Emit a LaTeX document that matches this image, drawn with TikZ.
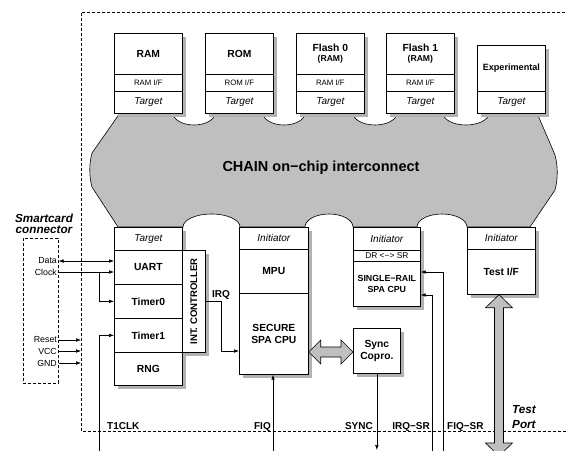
\documentclass[tikz,border=0pt]{standalone}
\usepackage{fontspec}
\setmainfont{Liberation Sans}
\setsansfont{Liberation Sans}
\usetikzlibrary{arrows.meta,calc}
\definecolor{cloudc}{gray}{0.75}
\definecolor{shadc}{gray}{0.70}
\newcommand\myfb{\fontsize{10.3}{12}\selectfont\bfseries}
\newcommand\myfbs{\fontsize{8.8}{10.5}\selectfont\bfseries}
\newcommand\myfbx{\fontsize{8.6}{9.5}\selectfont\bfseries}
\newcommand\myfs{\fontsize{7.8}{9}\selectfont}
\newcommand\myfi{\fontsize{10}{11}\selectfont\itshape}
\newcommand\myfsig{\fontsize{10}{11}\selectfont\bfseries}
\newcommand\myfpin{\fontsize{8.8}{10}\selectfont}
\newcommand\myfbig{\fontsize{11.7}{12}\selectfont\bfseries\itshape}
\newcommand\cell[7]{%
  \pgfmathsetmacro\cw{#4-#2}\pgfmathsetmacro\ch{#5-#3}%
  \node[cellst,font=#6,minimum width=\cw pt,minimum height=\ch pt,anchor=north west] (#1) at (#2,#3) {#7};}
\newcommand\mkshadow[4]{\fill[shadc] (#1+4,#2+4) rectangle (#3+4,#4+4);}
\begin{document}
\begin{tikzpicture}[x=1pt,y=-1pt,
  cellst/.style={draw,fill=white,inner sep=0pt,line width=0.7pt,align=center},
  arr/.style={-{Latex[length=5pt,width=3.6pt]},line width=0.55pt},
  arrb/.style={{Latex[length=5pt,width=3.6pt]}-{Latex[length=5pt,width=3.6pt]},line width=0.55pt},
  fat/.style={fill=cloudc,draw=black,line width=0.6pt,line join=miter},
  dashbox/.style={dash pattern=on 3pt off 2pt,line width=0.55pt},
  pin/.style={font=\myfpin,inner sep=1.5pt},
  sig/.style={font=\myfsig,inner sep=0pt}]
\clip (0,0) rectangle (567,450);
% outer dashed border
\coordinate (bdr) at (81,12);
\draw[dashbox] (600,12) -- (bdr) -- (81,431) -- (600,431);
% cloud
\draw[fill=cloudc,line width=0.6pt] (120,113)
 -- (173,113) .. controls (173,119.6) and (182.4,125) .. (194,125) .. controls (205.6,125) and (215,119.6) .. (215,113)
 -- (263,113) .. controls (263,119.6) and (272.4,125) .. (284,125) .. controls (295.6,125) and (305,119.6) .. (305,113)
 -- (353,113) .. controls (353,119.6) and (362.9,125) .. (375,125) .. controls (387.1,125) and (397,119.6) .. (397,113)
 -- (443,113) .. controls (443,119.6) and (453.3,125) .. (466,125) .. controls (478.7,125) and (489,119.6) .. (489,113)
 -- (537,113) -- (555,155) .. controls (558,166) and (558,179) .. (555,190) -- (530,227)
 -- (467,227) .. controls (467,219.8) and (455.8,214) .. (442,214) .. controls (428.2,214) and (417,219.8) .. (417,227)
 -- (353,227) .. controls (353,219.8) and (342.2,214) .. (329,214) .. controls (315.8,214) and (305,219.8) .. (305,227)
 -- (240,227) .. controls (240,219.8) and (227.2,214) .. (211.5,214) .. controls (195.8,214) and (183,219.8) .. (183,227)
 -- (118,227) -- (92,187) .. controls (89,176) and (89,164) .. (92,153) -- cycle;
\node[font=\fontsize{14.5}{16}\selectfont\bfseries] (chain) at (321,168) {CHAIN on−chip interconnect};
% top boxes
\mkshadow{114}{33}{182}{113}
\cell{ram}{114}{33}{182}{74}{\myfb}{RAM}
\cell{ramif}{114}{74}{182}{91}{\myfs}{RAM I/F}
\cell{ramt}{114}{91}{182}{113}{\myfi}{Target}
\mkshadow{205}{33}{273}{113}
\cell{rom}{205}{33}{273}{74}{\myfb}{ROM}
\cell{romif}{205}{74}{273}{91}{\myfs}{ROM I/F}
\cell{romt}{205}{91}{273}{113}{\myfi}{Target}
\mkshadow{296}{33}{364}{113}
\cell{fl0}{296}{33}{364}{74}{\myfb}{Flash 0\\[-1.5pt]{\myfbx (RAM)}}
\cell{fl0if}{296}{74}{364}{91}{\myfs}{RAM I/F}
\cell{fl0t}{296}{91}{364}{113}{\myfi}{Target}
\mkshadow{386}{33}{454}{113}
\cell{fl1}{386}{33}{454}{74}{\myfb}{Flash 1\\[-1.5pt]{\myfbx (RAM)}}
\cell{fl1if}{386}{74}{454}{91}{\myfs}{RAM I/F}
\cell{fl1t}{386}{91}{454}{113}{\myfi}{Target}
\mkshadow{477}{45}{545}{113}
\cell{exp}{477}{45}{545}{91}{\fontsize{9.1}{10}\selectfont\bfseries}{Experimental}
\cell{expt}{477}{91}{545}{113}{\myfi}{Target}
% bottom left block
\mkshadow{114}{227}{182}{385}
\cell{lt}{114}{227}{182}{250}{\myfi}{Target}
\cell{uart}{114}{250}{182}{284}{\myfb}{UART}
\cell{timer0}{114}{284}{182}{318}{\myfb}{Timer0}
\cell{timer1}{114}{318}{182}{352}{\myfb}{Timer1}
\cell{rng}{114}{352}{182}{385}{\myfb}{RNG}
\mkshadow{182}{250}{205}{352}
\cell{intc}{182}{250}{205}{352}{\myfb}{}
\node[rotate=90,font=\fontsize{9.6}{11}\selectfont\bfseries,inner sep=0pt] (intcl) at (intc.center) {INT. CONTROLLER};
% secure CPU
\mkshadow{239}{227}{308}{374}
\cell{sinit}{239}{227}{308}{249}{\myfi}{Initiator}
\cell{mpu}{239}{249}{308}{293}{\myfb}{MPU}
\cell{secure}{239}{293}{308}{374}{\myfb}{SECURE\\SPA CPU}
% single rail
\mkshadow{353}{227}{420}{306}
\cell{srinit}{353}{227}{420}{250}{\myfi}{Initiator}
\cell{drsr}{353}{250}{420}{261}{\fontsize{8.4}{9}\selectfont}{DR <−> SR}
\cell{srcpu}{353}{261}{420}{306}{\myfbs}{SINGLE−RAIL\\SPA CPU}
% test
\mkshadow{467}{227}{535}{294}
\cell{tinit}{467}{227}{535}{249}{\myfi}{Initiator}
\cell{testif}{467}{249}{535}{294}{\myfb}{Test I/F}
% sync copro
\mkshadow{353}{328}{400}{373}
\cell{sync}{353}{328}{400}{373}{\myfb}{Sync\\Copro.}
% smartcard connector
\node[font=\myfbig,inner sep=0pt,anchor=base] (sc1) at (44,222) {Smartcard};
\node[font=\myfbig,inner sep=0pt,anchor=base] (sc2) at (44,233) {connector};
\node[draw,dashbox,inner sep=0pt,minimum width=35pt,minimum height=145pt,anchor=north west] (scbox) at (23,238) {};
\node[pin,anchor=east] (data) at (scbox.east |- 0,261) {Data};
\node[pin,anchor=east] (clock) at (scbox.east |- 0,272) {Clock};
\node[pin,anchor=east] (reset) at (scbox.east |- 0,340) {Reset};
\node[pin,anchor=east] (vcc) at (scbox.east |- 0,351) {VCC};
\node[pin,anchor=east] (gnd) at (scbox.east |- 0,363) {GND};
% connectors on the left
\draw[arrb] (data.east) -- (data.east -| uart.west);
\draw[arr] (clock.east) -- (clock.east -| uart.west);
\coordinate (cbr) at (99,272);
\draw[arr] (cbr) |- (timer0.west);
\coordinate (t1src) at (99,452);
\draw[arr] (t1src) |- (timer1.west);
\draw[arr] (reset.east) -- (reset.east -| bdr);
\draw[arr] (vcc.east) -- (vcc.east -| bdr);
\draw[arr] (gnd.east) -- (gnd.east -| bdr);
% IRQ
\coordinate (irqin) at (239,351);
\draw[arr] (intc.east) -- ++(16,0) |- (irqin);
\node[sig,anchor=base west] (irql) at (212,297) {IRQ};
% FIQ, SYNC, IRQ-SR, FIQ-SR
\coordinate (fiqsrc) at (273,452);
\draw[arr] (fiqsrc) -- (fiqsrc |- secure.south);
\coordinate (syncend) at (sync.south |- 0,450);
\draw[arr] (sync.south) -- (syncend);
\coordinate (irqsrsrc) at (432,452);
\draw[arr] (irqsrsrc) |- (srcpu.east |- 0,295);
\coordinate (fiqsrsrc) at (443,452);
\draw[arr] (fiqsrsrc) |- (srcpu.east |- 0,272);
% bottom labels
\node[sig,anchor=base west] (t1clk) at (107,429) {T1CLK};
\node[sig,anchor=base east] (fiql) at (271,429) {FIQ};
\node[sig,anchor=base east] (syncl) at (373,429) {SYNC};
\node[sig,anchor=base east] (irqsrl) at (430,429) {IRQ−SR};
\node[sig,anchor=base west] (fiqsrl) at (447,429) {FIQ−SR};
\node[font=\myfbig,inner sep=0pt,anchor=base west] (tp1) at (512,413) {Test};
\node[font=\myfbig,inner sep=0pt,anchor=base west] (tp2) at (512,428) {Port};
% fat arrow secure <-> sync
\coordinate (fa1) at (secure.east |- 0,352);
\coordinate (fa2) at (sync.west |- 0,352);
\draw[fat] (fa1) -- ++(12,-12) -- ++(0,7) -- ($(fa2)+(-12,-5)$) -- ++(0,-7) -- (fa2)
  -- ++(-12,12) -- ++(0,-7) -- ($(fa1)+(12,5)$) -- ++(0,7) -- cycle;
% test port fat arrow
\coordinate (tpt) at (testif.south -| 499,0);
\coordinate (tpb) at (499,456);
\draw[fat] (tpt) -- ++(13.5,13) -- ++(-9,0) -- ($(tpb)+(4.5,-13)$) -- ++(9,0) -- (tpb)
  -- ++(-13.5,-13) -- ++(9,0) -- ($(tpt)+(-4.5,13)$) -- ++(-9,0) -- cycle;
\end{tikzpicture}
\end{document}
